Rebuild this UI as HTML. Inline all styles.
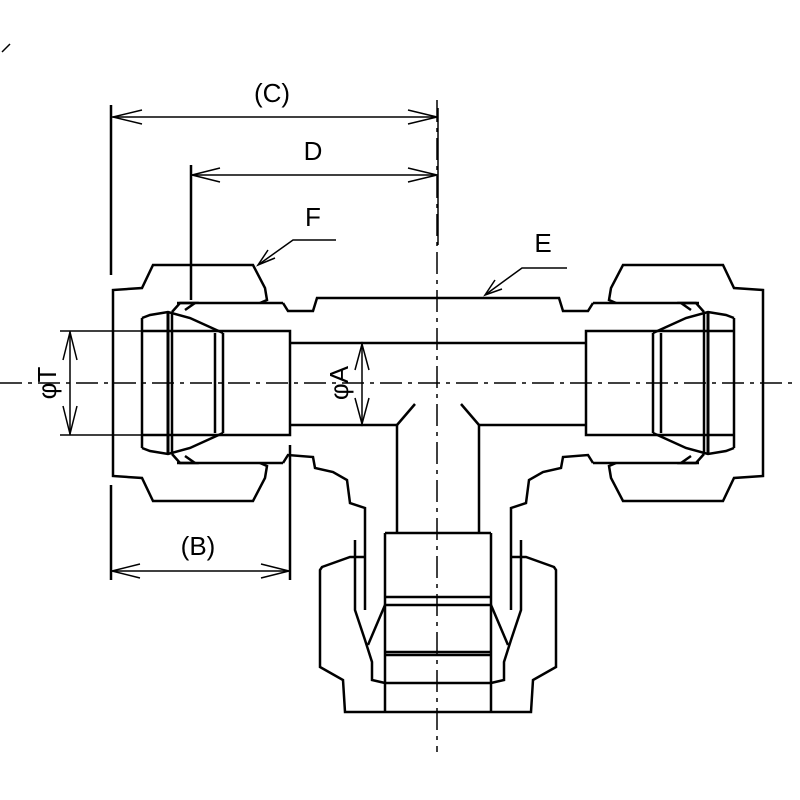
<!DOCTYPE html>
<html><head><meta charset="utf-8"><style>
html,body{margin:0;padding:0;background:#fff;}
svg{display:block;}
text{font-family:"Liberation Sans",sans-serif;font-size:26px;fill:#000;}
</style></head><body>
<svg width="800" height="800" viewBox="0 0 800 800" xmlns="http://www.w3.org/2000/svg">
<g fill="none" stroke="#000" stroke-width="2.5" stroke-linejoin="miter">
<!-- centerlines -->
<line x1="0" y1="383" x2="795" y2="383" stroke-width="1.5" stroke-dasharray="22,6,4,6"/>
<line x1="437" y1="100" x2="437" y2="752" stroke-width="1.5" stroke-dasharray="22,6,4,6"/>
<line x1="2" y1="52" x2="10" y2="44" stroke-width="1.5"/>

<g id="L">
<!-- nut -->
<polyline points="260,303 267,300 265,288 253,265 153,265 142,288 113,290 113,476 142,478 153,501 253,501 265,478 267,466 260,463"/>
<line x1="177" y1="303" x2="283" y2="303"/>
<polyline points="283,303 288,311 313,311 317,298 438,298"/>
<line x1="177" y1="463" x2="283" y2="463"/>
<polyline points="283,463 288,455 313,457 315,468 333,472 347,480 350,503 365,508 365,540"/>
<!-- tube / ferrules -->
<polyline points="142,331 290,331 290,435 142,435"/>
<line x1="142" y1="318" x2="142" y2="448"/>
<line x1="168" y1="312" x2="168" y2="454" stroke-width="3"/>
<line x1="172" y1="312" x2="172" y2="454"/>
<line x1="215" y1="333" x2="215" y2="433"/>
<line x1="223" y1="333" x2="223" y2="433"/>
<polyline points="142,318 150,315 168,312 190,318 223,333"/>
<polyline points="142,448 150,451 168,454 190,448 223,433"/>
<polyline points="172,312 180,303 195,303 185,310"/>
<polyline points="172,454 180,463 195,463 185,456"/>
<!-- bore -->
<line x1="290" y1="343" x2="438" y2="343"/>
<polyline points="290,425 397,425 397,532"/>
<line x1="397" y1="425" x2="415" y2="404"/>
<!-- bottom branch nut left half -->
<polyline points="365,557 350,557 322,567 320,570 320,667 343,680 345,712 438,712"/>
<line x1="385" y1="533" x2="385" y2="712"/>
<line x1="385" y1="533" x2="438" y2="533"/>
<line x1="385" y1="597" x2="438" y2="597"/>
<line x1="385" y1="605" x2="438" y2="605"/>
<line x1="385" y1="652" x2="438" y2="652"/>
<line x1="385" y1="655" x2="438" y2="655"/>
<line x1="385" y1="683" x2="438" y2="683"/>
<polyline points="355,540 355,610 365,640 372,662 372,680 385,683"/>
<line x1="365" y1="540" x2="365" y2="610"/>
<line x1="385" y1="605" x2="368" y2="645"/>
</g>
<use href="#L" transform="translate(876,0) scale(-1,1)"/>

<!-- dimension lines -->
<g stroke-width="1.5">
<line x1="111" y1="105" x2="111" y2="275" stroke-width="2.5"/>
<line x1="111" y1="485" x2="111" y2="580" stroke-width="2.5"/>
<line x1="191" y1="165" x2="191" y2="300" stroke-width="2.5"/>
<line x1="438" y1="108" x2="438" y2="245"/>
<line x1="290" y1="445" x2="290" y2="580" stroke-width="2.5"/>
<line x1="111" y1="117" x2="438" y2="117"/>
<polyline points="142,110 113,117 142,124"/><polyline points="408,110 437,117 408,124"/>
<line x1="191" y1="175" x2="438" y2="175"/>
<polyline points="220,168 192,175 220,182"/><polyline points="408,168 437,175 408,182"/>
<line x1="111" y1="571" x2="290" y2="571"/>
<polyline points="140,564 112,571 140,578"/><polyline points="261,564 289,571 261,578"/>
<!-- phi T -->
<line x1="60" y1="331" x2="142" y2="331"/>
<line x1="60" y1="435" x2="142" y2="435"/>
<line x1="70" y1="331" x2="70" y2="435"/>
<polyline points="63,360 70,332 77,360"/><polyline points="63,406 70,434 77,406"/>
<!-- phi A -->
<line x1="362" y1="343" x2="362" y2="425"/>
<polyline points="355,370 362,344 369,370"/><polyline points="355,398 362,424 369,398"/>
<!-- leaders -->
<polyline points="336,240 293,240 258,265"/>
<polyline points="268,250 258,265 275,258"/>
<polyline points="567,268 522,268 485,295"/>
<polyline points="495,280 485,295 502,289"/>
</g>
</g>
<text x="272" y="102" text-anchor="middle">(C)</text>
<text x="313" y="160" text-anchor="middle">D</text>
<text x="313" y="226" text-anchor="middle">F</text>
<text x="543" y="252" text-anchor="middle">E</text>
<text x="198" y="555" text-anchor="middle">(B)</text>
<text transform="translate(56,383) rotate(-90)" text-anchor="middle">φT</text>
<text transform="translate(348,383) rotate(-90)" text-anchor="middle">φA</text>
</svg>
</body></html>
